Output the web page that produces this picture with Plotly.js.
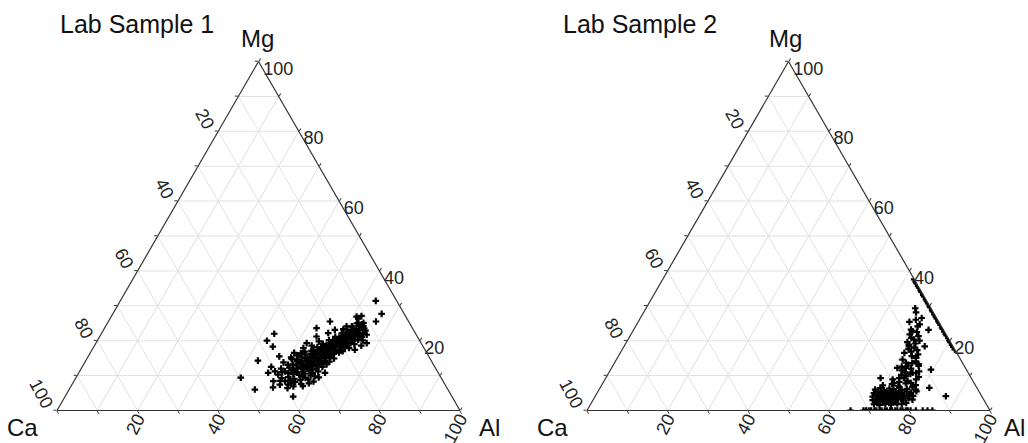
<!DOCTYPE html>
<html>
<head>
<meta charset="utf-8">
<script src="https://cdn.plot.ly/plotly-3.0.1.min.js"></script>
<style>html,body{margin:0;padding:0;background:#fff;}#chart{width:1028px;height:443px;}</style>
</head>
<body>
<div id="chart"></div>
<script>
// ---- Lab Sample 1: Mg (%) and Al (%) ; Ca = remainder ----
const mg1 = [
 31.4,27.7,25.5,27.1,26.9,25.1,25.1,25.5,24.1,23.3,23.1,22.2,23.6,21.2,22.7,19.3,17.4,19.3,21.2,17.4,
 10.8,9.8,8.9,4.0,22.0,20.0,18.3,14.3,9.4,6.0,15.5,12.5,10.8,11.2,8.4,9.3,11.2,8.4,7.4,6.9,
 7.4,16.5,14.6,13.1,17.9,19.3,6.6,21.7,20.8,24.1,26.3,23.8,22.9,20.1,18.6,
 9.6,9.1,10.2,9.8,10.4,9.3,10.1,
 10.7,11.3,10.9,11.1,10.6,11.4,10.8,11.2,11.0,
 12.3,11.8,12.1,12.4,11.9,12.2,12.6,11.7,12.0,12.5,
 13.2,12.9,13.4,12.8,13.1,13.5,12.9,13.3,13.0,13.6,13.2,
 14.1,13.8,14.3,14.0,14.4,13.9,14.2,14.5,13.8,14.3,14.0,
 15.2,14.9,15.3,15.0,15.4,14.8,15.1,15.5,15.0,15.3,14.9,
 16.0,16.3,15.8,16.2,16.5,15.9,16.1,16.4,15.7,16.2,16.6,
 17.1,16.8,17.3,17.0,17.4,16.9,17.2,17.5,16.8,17.3,17.0,
 18.2,17.9,18.4,18.0,18.5,17.8,18.1,18.6,18.0,18.3,17.9,
 19.1,18.8,19.3,19.0,19.5,18.9,19.2,19.6,18.8,19.3,19.0,
 20.2,19.9,20.4,20.0,20.5,19.8,20.1,20.6,20.0,20.3,
 21.1,20.8,21.3,21.0,21.5,20.9,21.2,21.6,21.0,
 22.1,21.8,22.3,22.0,22.5,21.9,22.2,
 23.2,22.9,23.4,23.0,23.5,
 24.0,24.4,24.2,25.0,24.7,
 8.6,8.2,8.8,7.9,8.5,7.6,
 12.0,13.8,15.2,16.4,10.3,
 7.0,7.8,8.3,6.4,9.5,15.8,16.9,14.7,18.6,19.8
];
const al1 = [
 63.4,66.7,66.4,62.0,60.9,62.2,63.5,55.0,61.1,59.4,57.4,56.2,52.6,53.8,62.6,67.2,65.2,62.6,64.1,54.9,
 61.1,59.1,57.9,56.6,42.9,42.1,44.4,42.7,40.9,46.1,47.4,46.9,47.0,48.5,49.5,51.1,51.0,52.4,53.7,55.2,
 51.6,50.6,52.2,50.8,52.2,52.3,50.3,66.0,63.1,59.8,61.6,63.9,65.1,65.8,66.2,
 52.6,54.3,55.0,56.1,53.4,57.0,57.9,
 52.1,53.0,54.2,55.3,56.2,56.9,58.0,59.2,50.4,
 51.5,52.7,53.6,54.4,55.1,55.9,56.7,57.5,58.4,59.6,
 51.9,53.0,53.9,54.6,55.3,56.0,56.6,57.4,58.2,59.1,60.3,
 52.5,53.6,54.5,55.2,55.8,56.4,57.0,57.7,58.4,59.3,60.6,
 53.1,54.2,55.1,55.8,56.5,57.1,57.7,58.4,59.2,60.1,61.3,
 53.7,54.9,55.8,56.5,57.2,57.8,58.4,59.1,59.8,60.6,61.7,
 54.6,55.6,56.5,57.3,58.0,58.6,59.2,59.9,60.5,61.3,62.4,
 55.5,56.6,57.4,58.2,58.9,59.5,60.1,60.8,61.5,62.3,63.5,
 56.4,57.5,58.3,59.0,59.7,60.3,61.0,61.6,62.3,63.2,64.3,
 57.4,58.5,59.3,60.1,60.8,61.4,62.1,62.8,63.6,64.6,
 58.5,59.6,60.4,61.2,61.9,62.6,63.3,64.2,65.1,
 59.6,60.7,61.5,62.3,63.1,63.9,64.8,
 60.4,61.6,62.6,63.6,64.5,
 61.3,62.7,63.9,61.9,63.3,
 53.5,55.0,56.0,54.1,51.2,56.8,
 49.6,49.3,50.5,52.3,49.7,
 57.5,58.6,59.5,54.0,60.2,51.8,53.0,50.9,53.9,55.1
];

// ---- Lab Sample 2: Mg (%) and Al (%) ; Ca = remainder ----
const mg2 = [
 // Ca = 0 edge
 37.6,36.9,36.5,35.7,35.2,34.4,34.0,33.1,32.7,31.8,31.3,30.7,29.9,29.6,28.7,28.3,27.5,26.9,26.4,25.6,
 25.2,24.5,23.8,23.4,22.6,21.9,21.5,20.7,20.1,19.6,18.8,18.2,17.5,
 // Mg = 0 edge
 0,0,0,0,0,0,0,0,0,0,0,0,0,0,0,0,0,0,0,0,0,0,0,0,
 // spray
 29.3,28.1,26.5,25.4,24.7,23.1,23.2,22.5,21.8,21.3,20.8,20.3,20.0,19.6,19.2,18.9,18.4,18.4,18.0,17.6,
 17.3,16.9,16.5,16.1,15.6,14.6,14.1,13.7,13.3,12.9,12.6,12.2,12.0,11.5,11.2,10.9,10.5,10.2,9.9,9.6,
 9.3,8.9,8.5,8.2,7.9,12.8,13.6,10.7,26.0,24.1,22.7,15.1,12.2,10.8,7.9,9.3,9.3,
 // blob
 1.8,2.1,1.6,2.3,1.9,2.2,1.7,2.4,2.0,1.8,2.2,2.6,2.5,2.7,
 3.0,3.3,2.9,3.4,3.1,3.5,3.0,3.3,3.6,3.2,3.4,2.9,3.5,3.1,3.6,3.0,
 4.0,4.3,3.8,4.4,4.1,4.5,3.9,4.2,4.6,4.0,4.4,4.1,4.5,4.2,3.8,4.6,
 5.0,5.3,4.8,5.4,5.1,5.5,4.9,5.2,5.6,5.0,5.4,5.1,5.5,4.8,
 6.0,6.4,5.8,6.3,6.1,6.6,5.9,6.2,6.7,6.0,
 7.2,7.6,7.1,7.8,7.3,
 6.5,4.1,8.9,11.7
];
const al2 = [
 62.4,63.1,63.5,64.3,64.8,65.6,66.0,66.9,67.3,68.2,68.7,69.3,70.1,70.4,71.3,71.7,72.5,73.1,73.6,74.4,
 74.8,75.5,76.2,76.6,77.4,78.1,78.5,79.3,79.9,80.4,81.2,81.8,82.5,
 65.4,68.6,69.2,69.9,70.5,71.3,71.8,72.6,73.1,73.9,74.4,75.2,75.7,76.5,77.0,77.8,78.3,79.1,79.6,80.3,81.6,83.3,84.5,85.7,
 66.8,67.6,69.8,67.3,70.2,73.2,68.8,70.6,69.2,71.6,70.1,71.0,72.5,69.7,71.9,70.4,70.7,74.6,72.2,71.0,
 73.3,72.0,70.5,74.1,72.8,71.0,74.5,72.3,75.6,73.2,71.8,73.0,74.4,72.4,76.8,73.6,75.0,72.9,74.2,77.5,
 74.0,77.2,75.3,73.4,76.4,75.9,73.9,76.3,68.6,70.0,69.4,74.1,70.9,75.4,72.2,68.2,72.8,
 70.3,71.0,71.8,72.4,73.1,73.9,74.6,75.3,76.0,77.2,78.1,70.6,73.4,74.8,
 69.4,70.1,70.9,71.5,72.2,72.8,73.5,74.1,74.7,75.5,76.2,77.0,78.0,79.2,70.5,71.8,
 68.9,69.7,70.4,71.1,71.7,72.4,73.0,73.6,74.3,75.0,75.8,76.7,77.6,78.8,72.1,70.2,
 68.7,69.5,70.3,71.0,71.8,72.5,73.2,74.0,74.8,75.6,76.6,77.8,79.0,72.0,
 68.5,69.6,70.8,71.9,73.0,74.2,75.1,76.3,77.4,78.6,
 69.8,71.9,73.7,75.2,77.9,
 81.7,87.0,71.4,79.5
];

// ---- tick labels (edge values read clockwise: Ca on left, Al on bottom, Mg on right) ----
const tickVals = [0,10,20,30,40,50,60,70,80,90,100];
const leftLabels   = ['100','','80','','60','','40','','20','',''];   // Ca on the Mg axis edge
const rightLabels  = ['100','','80','','60','','40','','20','',''];   // Mg on the Al axis edge
const bottomVals   = [20,40,60,80,100];                                 // Al along the base
const bottomLabels = ['20','40','60','80','100'];
const panelTitles = ['Lab Sample 1','Lab Sample 2'];
const vertexNames = ['Mg','Ca','Al'];

const tickFont = {family:'"Liberation Sans Narrow","Arial Narrow","Liberation Sans",Arial,sans-serif', size:18, color:'#222'};
const labelFont = {family:'"Liberation Sans",Arial,sans-serif', size:24, color:'#111'};
const titleFont = {family:'"Liberation Sans",Arial,sans-serif', size:25, color:'#111'};

// right-edge labels sit a little below their ticks in the original: a blank first line pushes them down
const rightText = rightLabels.map(function(t){ return t ? '<span style="font-size:9px"> </span><br>' + t : ''; });

function axis(labels, angle, showLabels){
  return {
    title:{text:''}, min:0,
    tickmode:'array', tickvals:tickVals, ticktext:labels, tickangle:angle,
    showticklabels:showLabels,
    ticks:'outside', ticklen:3, tickcolor:'#333', tickwidth:1,
    tickfont:tickFont,
    showline:true, linecolor:'#333', linewidth:1.2,
    showgrid:true, gridcolor:'#e2e2e2', gridwidth:1
  };
}
function tern(xd){
  return {
    sum:100, bgcolor:'#fff',
    domain:{x:xd, y:[32/443, 382/443]},
    aaxis:axis(leftLabels, 62, true),
    baxis:axis(leftLabels, 0, false),
    caxis:axis(rightText, 0, true)
  };
}
// cartesian helper axis lying on the triangle base, used only for the Al labels
function baseAxis(xd, yid){
  return {
    domain:xd, range:[0,100], anchor:yid, side:'bottom',
    tickmode:'array', tickvals:bottomVals, ticktext:bottomLabels, tickangle:-62,
    ticks:'', ticklabelstandoff:-7, showgrid:false, zeroline:false, showline:false,
    tickfont:tickFont, fixedrange:true
  };
}
function baseY(){
  return {domain:[32/443, 60/443], range:[0,1], visible:false, fixedrange:true};
}

const marker = {symbol:'cross', size:5.5, color:'#000', line:{width:0}};
const data = [
  {type:'scatter', x:[], y:[], xaxis:'x', yaxis:'y', hoverinfo:'skip', showlegend:false},
  {type:'scatter', x:[], y:[], xaxis:'x2', yaxis:'y2', hoverinfo:'skip', showlegend:false},
  {type:'scatterternary', mode:'markers', a:mg1, c:al1, subplot:'ternary', marker:marker, hoverinfo:'a+b+c'},
  {type:'scatterternary', mode:'markers', a:mg2, c:al2, subplot:'ternary2', marker:marker, hoverinfo:'a+b+c'}
];

const W = 1028, H = 443;
function ann(text, px, py, font, xanchor){
  return {text:text, xref:'paper', yref:'paper', x:px/W, y:1-py/H, xanchor:xanchor||'center', yanchor:'middle', showarrow:false, font:font};
}
const layout = {
  width:W, height:H, margin:{l:0,r:0,t:0,b:0},
  paper_bgcolor:'#fff', plot_bgcolor:'rgba(0,0,0,0)', showlegend:false,
  ternary: tern([57/W, 460/W]),
  ternary2: tern([587/W, 990/W]),
  xaxis: baseAxis([57/W, 460/W], 'y'),
  yaxis: baseY(),
  xaxis2: baseAxis([587/W, 990/W], 'y2'),
  yaxis2: baseY(),
  annotations:[
    ann(panelTitles[0], 58, 24, titleFont, 'left'),
    ann(panelTitles[1], 561, 24, titleFont, 'left'),
    ann(vertexNames[0], 257, 38, labelFont),
    ann(vertexNames[1], 22, 427, labelFont),
    ann(vertexNames[2], 489, 427, labelFont),
    ann(vertexNames[0], 785, 38, labelFont),
    ann(vertexNames[1], 552, 427, labelFont),
    ann(vertexNames[2], 1014, 427, labelFont)
  ]
};
Plotly.newPlot('chart', data, layout, {staticPlot:true, displayModeBar:false});
</script>
</body>
</html>
